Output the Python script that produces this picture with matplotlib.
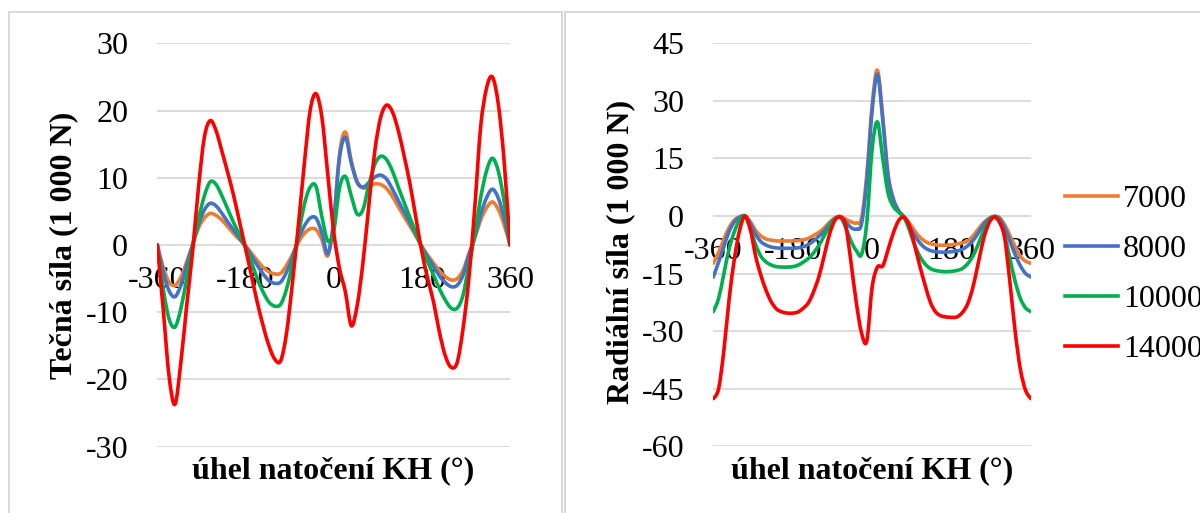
import numpy as np
import matplotlib
matplotlib.use("Agg")
from matplotlib import pyplot as plt
from matplotlib.patches import Rectangle, PathPatch
from matplotlib.path import Path
from matplotlib.lines import Line2D

plt.rcParams['font.family'] = ['Liberation Serif', 'DejaVu Serif']
plt.rcParams['axes.unicode_minus'] = False

# ---------------------- data ----------------------
angle = [-360, -348, -336, -324, -312, -300, -288, -276, -264, -252, -240,
         -228, -216, -204, -192, -180, -168, -156, -144, -132, -120, -108,
         -96, -84, -72, -60, -48, -36, -24, -12, 0, 12, 24, 36, 48, 60,
         72, 84, 96, 108, 120, 132, 144, 156, 168, 180, 192, 204, 216, 228,
         240, 252, 264, 276, 288, 300, 312, 324, 336, 348, 360]

speeds = ['7000', '8000', '10000', '14000']
colors = ['#ED7D31', '#4472C4', '#00B050', '#FF0000']

# tangential force (1 000 N)
tang_7000 = [0, -3.3, -5.5, -6.0, -4.8, -2.5, 0.0, 2.5, 4.0, 4.7, 4.4,
             3.7, 2.7, 1.7, 0.8, -0.1, -1.2, -2.3, -3.3, -4.0, -4.3, -4.2,
             -3.0, -1.4, 0.4, 1.7, 2.4, 2.3, 0.8, -1.6, 3.5, 13.5, 16.8, 12.5, 9.5, 8.5,
             8.7, 9.1, 9.0, 8.4, 7.2, 5.7, 4.2, 2.8, 1.3, -0.2, -1.5, -2.7, -3.8, -4.7,
             -5.2, -5.0, -3.8, -1.3, 1.0, 3.7, 5.5, 6.4, 5.3, 3.0, 0]
tang_8000 = [0, -4.0, -6.8, -7.7, -6.0, -3.0, 0.0, 3.0, 5.2, 6.2, 5.8,
             4.7, 3.4, 2.2, 1.0, -0.2, -1.6, -3.0, -4.3, -5.3, -5.7, -5.5,
             -4.0, -1.8, 0.9, 2.8, 4.0, 4.0, 1.8, -1.3, 3.5, 13.0, 16.0, 12.2, 9.3, 8.6,
             9.3, 10.1, 10.4, 9.8, 8.3, 6.6, 4.9, 3.3, 1.6, -0.3, -1.8, -3.2, -4.6, -5.6,
             -6.2, -6.0, -4.5, -1.5, 1.2, 4.5, 7.0, 8.3, 7.0, 4.0, 0]
tang_10000 = [0, -6.5, -11.0, -12.2, -9.5, -5.0, -0.2, 3.8, 7.3, 9.4, 9.0,
              7.3, 5.3, 3.3, 1.5, -0.3, -2.5, -5.0, -7.0, -8.5, -9.1, -8.8,
              -6.5, -2.8, 1.5, 6.0, 8.6, 8.7, 4.2, 0.6, 2.0, 8.5, 10.2, 7.3, 4.6, 5.3,
              9.0, 12.0, 13.2, 12.7, 11.0, 8.6, 6.3, 4.0, 1.8, -0.5, -2.5, -4.5, -6.5, -8.2,
              -9.4, -9.4, -7.5, -3.0, 1.5, 7.0, 11.0, 12.9, 11.0, 6.5, 0]
tang_14000 = [0, -9.5, -19.5, -23.7, -17.5, -9.0, -1.0, 8.5, 16.0, 18.5, 17.0,
              13.9, 10.7, 7.3, 3.4, -0.5, -4.5, -8.5, -12.0, -15.0, -17.0, -17.2,
              -13.0, -5.5, 3.0, 12.0, 20.0, 22.5, 19.0, 10.5, 2.0, -3.5, -7.0, -12.0, -9.0, -2.5,
              6.0, 14.0, 19.0, 20.8, 19.8, 17.0, 13.2, 9.0, 4.0, -1.0, -5.0, -8.5, -13.0, -16.5,
              -18.2, -17.5, -12.5, -5.0, 5.5, 17.5, 23.3, 25.0, 21.0, 12.5, 0]

# radial force (1 000 N)
rad_7000 = [-12.3, -9.5, -6.0, -3.0, -1.0, -0.2, 0.0, -1.5, -3.8, -5.2, -6.0,
            -6.3, -6.5, -6.5, -6.5, -6.5, -6.4, -6.2, -5.8, -5.0, -4.2, -3.0,
            -1.6, -0.5, -0.1, -0.8, -1.5, -1.8, -0.5, 11.0, 29.0, 38.0, 26.0, 11.0, 4.5, 1.5,
            -0.2, -1.8, -3.8, -5.5, -6.6, -7.2, -7.5, -7.6, -7.6, -7.5, -7.3, -7.0, -6.5, -5.3,
            -3.5, -1.8, -0.7, -0.1, -0.4, -2.2, -5.0, -8.0, -10.5, -11.8, -12.3]
rad_8000 = [-15.9, -12.0, -8.0, -4.0, -1.5, -0.3, 0.0, -2.0, -4.8, -6.7, -7.6,
            -8.1, -8.3, -8.4, -8.4, -8.4, -8.3, -8.0, -7.4, -6.4, -5.2, -3.8,
            -2.0, -0.6, -0.2, -1.5, -3.0, -3.4, -2.0, 9.5, 27.5, 36.9, 25.0, 10.5, 4.3, 1.3,
            -0.2, -2.5, -5.0, -7.0, -8.3, -9.0, -9.3, -9.4, -9.4, -9.3, -9.1, -8.7, -7.8, -6.5,
            -4.5, -2.3, -0.8, -0.1, -0.6, -3.0, -6.5, -10.0, -13.0, -15.0, -15.9]
rad_10000 = [-24.9, -21.5, -15.0, -8.5, -4.0, -1.0, 0.0, -3.5, -7.5, -10.5, -12.0,
             -12.8, -13.2, -13.3, -13.3, -13.2, -12.8, -12.0, -11.0, -9.5, -7.5, -5.0,
             -2.5, -0.8, -0.3, -3.0, -6.5, -9.0, -10.0, -1.5, 17.5, 24.5, 15.0, 6.0, 2.5, 1.0,
             -0.3, -3.5, -7.5, -10.5, -12.5, -13.7, -14.2, -14.4, -14.5, -14.4, -14.2, -13.7, -12.5, -10.5,
             -7.5, -4.0, -1.3, -0.2, -1.2, -5.0, -11.0, -17.0, -21.5, -24.0, -24.9]
rad_14000 = [-47.6, -45.0, -35.0, -21.5, -11.0, -3.5, 0.0, -3.5, -10.5, -15.5, -19.5,
             -22.5, -24.3, -25.0, -25.3, -25.3, -25.0, -24.0, -22.5, -19.5, -15.5, -10.0,
             -4.5, -1.0, -0.3, -2.5, -12.0, -22.5, -30.5, -32.5, -18.5, -13.3, -13.0, -8.8, -4.4, -1.2,
             -0.3, -2.5, -7.5, -13.0, -18.0, -22.5, -25.0, -26.0, -26.3, -26.4, -26.3, -25.2, -23.0, -18.7,
             -12.5, -6.2, -2.0, -0.3, -1.5, -5.5, -17.0, -30.0, -40.0, -45.5, -47.6]

x_ticks = [-360, -180, 0, 180, 360]
tang_ticks = [-30, -20, -10, 0, 10, 20, 30]
rad_ticks = [-60, -45, -30, -15, 0, 15, 30, 45]


def smooth_path(xs, ys):
    """Excel-like smoothed line: cubic Bezier segments through the points"""
    x = np.asarray(xs, float)
    y = np.asarray(ys, float)
    n = len(x)
    verts = [(x[0], y[0])]
    codes = [Path.MOVETO]
    for i in range(n - 1):
        a = max(i - 1, 0)
        b = min(i + 2, n - 1)
        c1 = (x[i] + (x[i + 1] - x[a]) / 6, y[i] + (y[i + 1] - y[a]) / 6)
        c2 = (x[i + 1] - (x[b] - x[i]) / 6, y[i + 1] - (y[b] - y[i]) / 6)
        verts += [c1, c2, (x[i + 1], y[i + 1])]
        codes += [Path.CURVE4] * 3
    return Path(verts, codes)


# ---------------------- figure ----------------------
W, H = 1200, 513
fig = plt.figure(figsize=(W / 100, H / 100), dpi=100)
grey = '#D9D9D9'


def px_axes(x0, x1, y0, y1):
    """axes placed by pixel edges (y measured from top)"""
    return fig.add_axes([x0 / W, 1 - y1 / H, (x1 - x0) / W, (y1 - y0) / H])


# chart frames
fig.add_artist(Rectangle((8.7 / W, -0.1), (562 - 8.7) / W, 1.1 - 12 / H,
                         transform=fig.transFigure, fill=False, ec=grey, lw=1.5))
fig.add_artist(Rectangle((565 / W, -0.1), 0.6, 1.1 - 12 / H,
                         transform=fig.transFigure, fill=False, ec=grey, lw=1.5))

ax1 = px_axes(157.3, 510, 43.3, 446.7)
ax2 = px_axes(713.3, 1031, 43.3, 446.3)

tang = [tang_7000, tang_8000, tang_10000, tang_14000]
rad = [rad_7000, rad_8000, rad_10000, rad_14000]

for ax, series in ((ax1, tang), (ax2, rad)):
    for vals, col in zip(series, colors):
        ax.add_patch(PathPatch(smooth_path(angle, vals), fill=False, ec=col, lw=2.6,
                               capstyle='round', joinstyle='round'))

for ax, ticks in ((ax1, tang_ticks), (ax2, rad_ticks)):
    ax.set_xlim(-360, 360)
    ax.set_ylim(ticks[0], ticks[-1])
    ax.set_yticks(ticks)
    ax.set_xticks(x_ticks)
    ax.grid(axis='y', color=grey, lw=1.3)
    ax.set_axisbelow(True)
    for s in ax.spines.values():
        s.set_visible(False)
    ax.spines['bottom'].set_position(('data', 0))
    ax.tick_params(axis='x', length=0, pad=15, labelsize=23)
    ax.tick_params(axis='y', length=0, pad=21, labelsize=23)
    ax.patch.set_alpha(0)

# axis titles
fig.text(64 / W, 1 - 245.7 / H, 'Tečná síla (1 000 N)', rotation=90,
         ha='center', va='center', fontsize=23, fontweight='bold')
fig.text(621 / W, 1 - 251.7 / H, 'Radiální síla (1 000 N)', rotation=90,
         ha='center', va='center', fontsize=23, fontweight='bold')
fig.text(333.6 / W, 1 - 471 / H, 'úhel natočení KH (°)',
         ha='center', va='center', fontsize=23, fontweight='bold')
fig.text(872 / W, 1 - 471 / H, 'úhel natočení KH (°)',
         ha='center', va='center', fontsize=23, fontweight='bold')

handles = [Line2D([], [], color=c, lw=2.6) for c in colors]
fig.legend(handles, speeds, loc='upper left', bbox_to_anchor=(1065 / W, 1 - 185 / H),
           frameon=False, fontsize=23, handlelength=1.66, handletextpad=0.16,
           labelspacing=0.64, borderpad=0, borderaxespad=0)

fig.savefig('out.png', dpi=100)
